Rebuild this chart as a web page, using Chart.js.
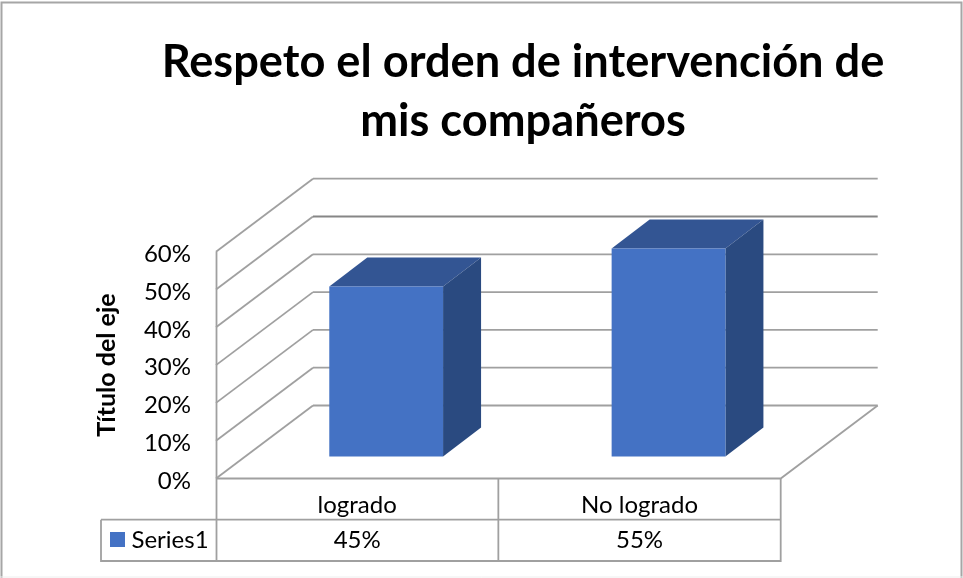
<!DOCTYPE html>
<html>
<head>
<meta charset="utf-8">
<style>html,body{margin:0;padding:0;background:#fff}canvas{display:block}</style>
<script src="https://cdn.jsdelivr.net/npm/chart.js@4"></script>
</head>
<body>
<canvas id="c" width="963" height="578"></canvas>
<script>
const categories = ['logrado', 'No logrado'];
const seriesName = 'Series1';
const seriesValues = [45, 55];
const titleLines = ['Respeto el orden de intervención de', 'mis compañeros'];
const axisTitle = 'Título del eje';

const FONT = 'Lato';
const LINE = '#a0a0a0';
const WALL = {dx: 97, dy: -73};
const BAR_SHIFT = {dx: 29, dy: -22};
const BAR_DEPTH = {dx: 38, dy: -29};
const TABLE = {top: 519.7, bottom: 561, left: 101};

function seg(ctx, pts, color, w) {
  ctx.beginPath();
  pts.forEach((p, i) => i ? ctx.lineTo(p[0], p[1]) : ctx.moveTo(p[0], p[1]));
  ctx.strokeStyle = color || LINE;
  ctx.lineWidth = w || 1.8;
  ctx.stroke();
}

const frame3d = {
  id: 'frame3d',
  afterLayout(chart) {
    const t = chart.titleBlock;
    t.left = 523 - 400;
    t.right = 523 + 400;
  },
  beforeDraw(chart) {
    const c = chart.ctx;
    c.save();
    c.fillStyle = '#fff';
    c.fillRect(0, 0, chart.width, chart.height);
    seg(c, [[1.5, 578], [1.5, 2.5], [961.5, 2.5], [961.5, 578]], '#a6a6a6', 2);
    seg(c, [[0, 577], [963, 577]], '#eeeeee', 1);
    c.restore();
  },
  beforeDatasetsDraw(chart) {
    const c = chart.ctx, y = chart.scales.y, x = chart.scales.x;
    c.save();
    const backRight = x.right + WALL.dx;
    y.ticks.forEach(tk => {
      const py = y.getPixelForValue(tk.value);
      const col = tk.value === 50 ? '#868686' : LINE;
      seg(c, [[x.left, py], [x.left + WALL.dx, py + WALL.dy]]);
      seg(c, [[x.left + WALL.dx, py + WALL.dy], [backRight, py + WALL.dy]], col);
    });
    const by = y.getPixelForValue(0);
    seg(c, [[x.left, by], [x.right, by], [backRight, by + WALL.dy]]);
    seg(c, [[x.left + 0.5, y.top], [x.left + 0.5, TABLE.bottom]]);
    c.restore();
  },
  beforeDatasetDraw(chart, args) {
    const c = chart.ctx;
    c.save();
    c.translate(BAR_SHIFT.dx, BAR_SHIFT.dy);
    chart.getDatasetMeta(args.index).data.forEach(el => {
      const l = el.x - el.width / 2, r = el.x + el.width / 2, t = el.y, b = el.base;
      c.beginPath();
      c.moveTo(l, t); c.lineTo(l + BAR_DEPTH.dx, t + BAR_DEPTH.dy);
      c.lineTo(r + BAR_DEPTH.dx, t + BAR_DEPTH.dy); c.lineTo(r, t); c.closePath();
      c.fillStyle = '#335593'; c.fill();
      c.beginPath();
      c.moveTo(r, t); c.lineTo(r + BAR_DEPTH.dx, t + BAR_DEPTH.dy);
      c.lineTo(r + BAR_DEPTH.dx, b + BAR_DEPTH.dy); c.lineTo(r, b); c.closePath();
      c.fillStyle = '#2a4a80'; c.fill();
    });
  },
  afterDatasetDraw(chart) {
    chart.ctx.restore();
  },
  afterDraw(chart) {
    const c = chart.ctx, x = chart.scales.x, y = chart.scales.y;
    c.save();
    const mid = (x.left + x.right) / 2;
    seg(c, [[TABLE.left, TABLE.top], [x.right, TABLE.top]]);
    seg(c, [[TABLE.left, TABLE.top], [TABLE.left, TABLE.bottom], [x.right, TABLE.bottom], [x.right, y.bottom]]);
    seg(c, [[mid, y.bottom], [mid, TABLE.bottom]]);
    c.fillStyle = '#000';
    c.font = '24px ' + FONT;
    c.textBaseline = 'middle';
    c.textAlign = 'center';
    seriesValues.forEach((v, i) => {
      c.fillText(v + '%', x.getPixelForValue(i), (TABLE.top + TABLE.bottom) / 2);
    });
    c.fillStyle = '#4472c4';
    c.fillRect(110, 532, 15, 15);
    c.fillStyle = '#000';
    c.textAlign = 'left';
    c.fillText(seriesName, 131.5, (TABLE.top + TABLE.bottom) / 2);
    c.restore();
  }
};

new Chart(document.getElementById('c'), {
  type: 'bar',
  plugins: [frame3d],
  data: {
    labels: categories,
    datasets: [{
      label: seriesName,
      data: seriesValues,
      backgroundColor: '#4472c4',
      barPercentage: 0.403,
      categoryPercentage: 1,
      clip: false
    }]
  },
  options: {
    responsive: false,
    animation: false,
    layout: {padding: {left: 0, right: 182.3, top: 0, bottom: 0}},
    plugins: {
      legend: {display: false},
      tooltip: {enabled: false},
      title: {
        display: true,
        text: titleLines,
        color: '#000',
        font: {family: FONT, size: 45.2, weight: 'bold', lineHeight: 59 / 45.2},
        padding: {top: 33, bottom: 100.7}
      }
    },
    scales: {
      x: {
        grid: {display: false},
        border: {display: false},
        ticks: {color: '#000', font: {family: FONT, size: 24}, padding: 4, maxRotation: 0},
        afterFit(s) { s.height = 99.5; }
      },
      y: {
        min: 0, max: 60,
        grid: {display: false},
        border: {display: false},
        ticks: {
          stepSize: 10,
          color: '#000',
          padding: 17,
          labelOffset: 2.5,
          font: {family: FONT, size: 24},
          callback: v => v + '%'
        },
        title: {
          display: true,
          text: axisTitle,
          color: '#000',
          font: {family: FONT, size: 25, weight: 'bold'},
          padding: {top: 92, bottom: 0}
        },
        afterFit(s) { s.width = 216; }
      }
    }
  }
});
</script>
</body>
</html>
